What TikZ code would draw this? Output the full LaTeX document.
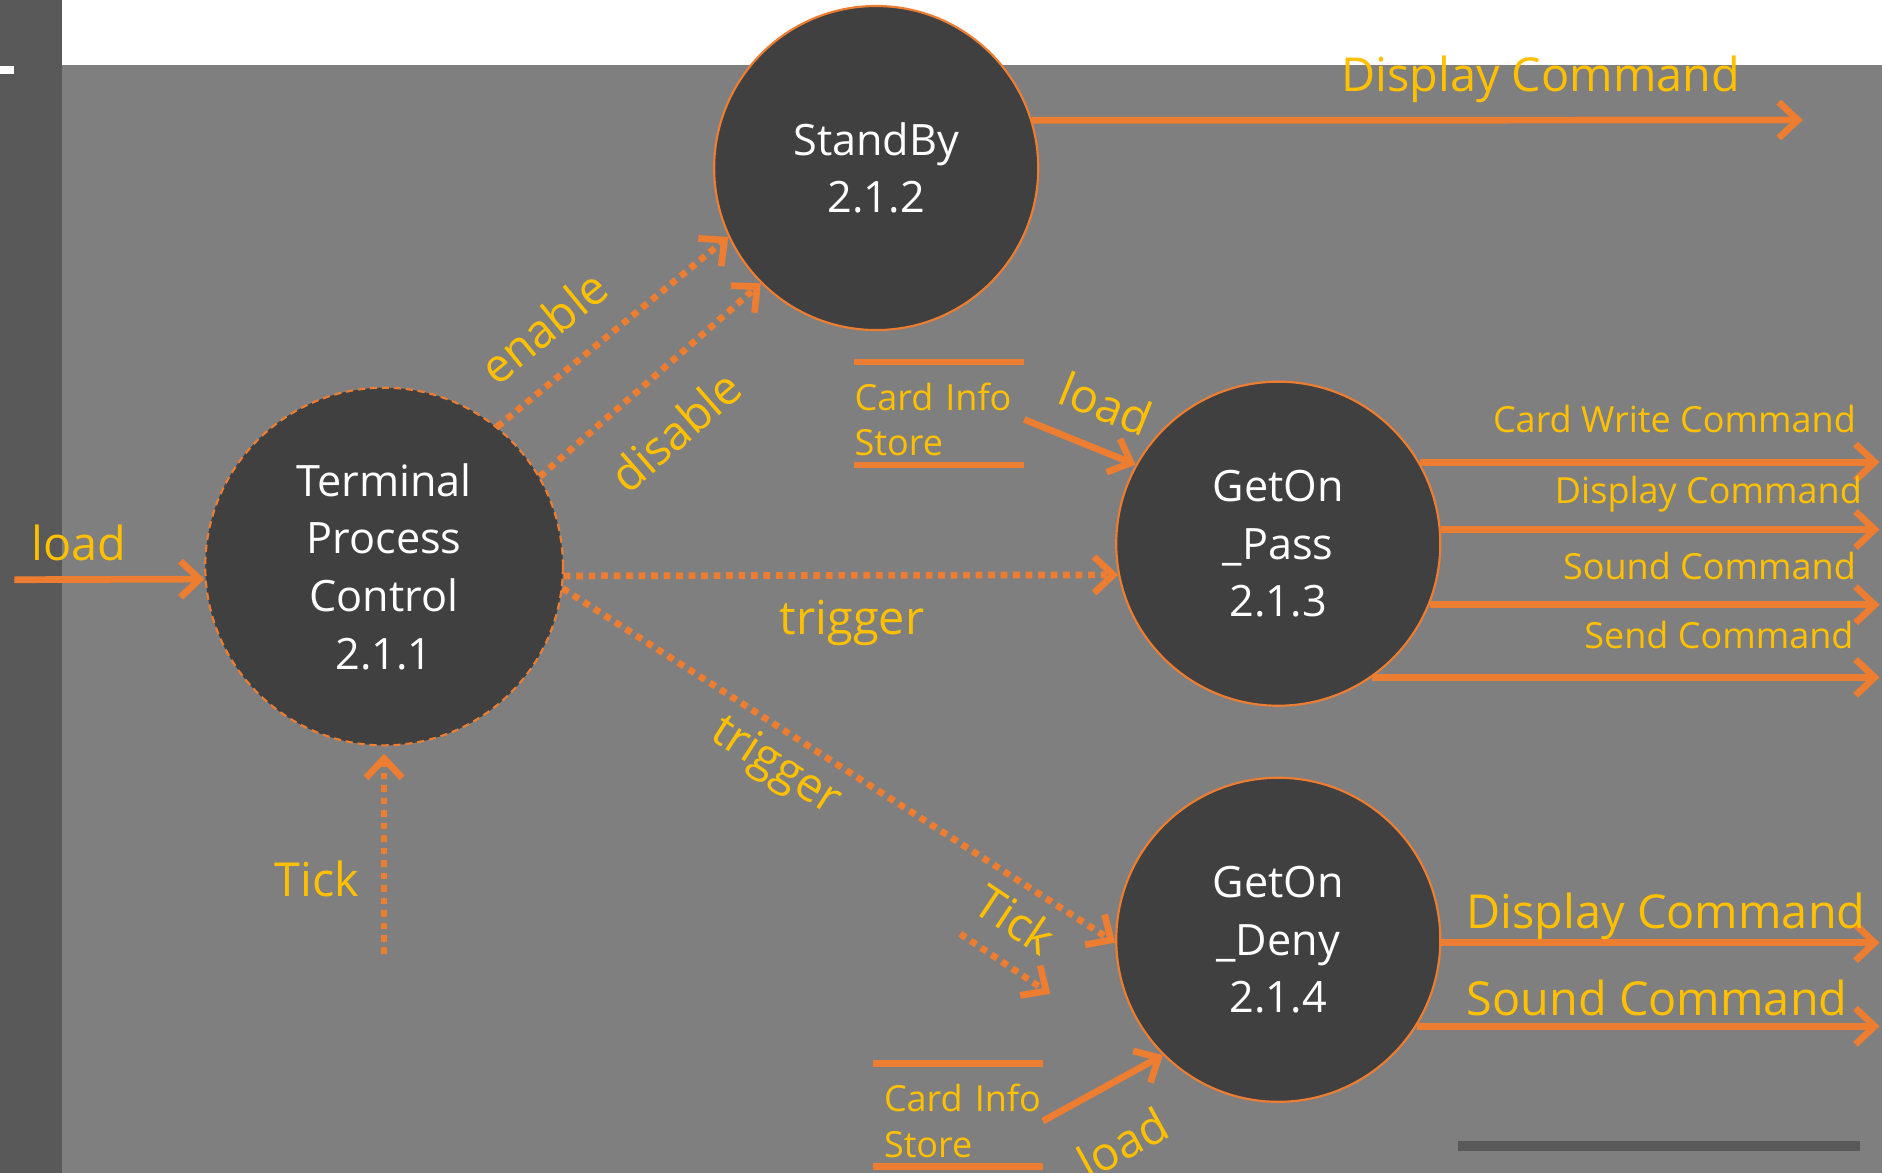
\documentclass[tikz,border=0pt]{standalone}
\usepackage{fontspec}
\setmainfont{Open Sans}
\usetikzlibrary{arrows.meta}
\definecolor{dfdorange}{HTML}{ED7D31}
\definecolor{dfdyellow}{HTML}{FFC000}
\definecolor{dfdfill}{HTML}{404040}
\definecolor{dfdgray}{HTML}{7F7F7F}
\definecolor{dfdstrip}{HTML}{595959}
\newcommand{\procfont}{\fontsize{18}{24}\selectfont}
\newcommand{\bigfont}{\fontsize{19.5}{23}\selectfont}
\newcommand{\smallfont}{\fontsize{15}{19}\selectfont}

\begin{document}
\begin{tikzpicture}[x=0.5pt, y=-0.5pt]
  \tikzstyle{process} = [circle, draw=dfdorange, line width=0.9pt, fill=dfdfill, text=white, inner sep=0pt, minimum size=135pt, align=center, font=\procfont]
  \tikzstyle{store} = [text=dfdyellow, font=\smallfont, text width=70.5pt, minimum height=42.5pt, inner sep=0pt, align=left]
  \tikzstyle{storeline} = [draw=dfdorange, line width=2.8pt]
  \tikzstyle{flow} = [draw=dfdorange, line width=2.8pt, -{Straight Barb[length=8pt, width=15pt]}]
  \tikzstyle{ctrl} = [flow, dash pattern=on 2.8pt off 2.4pt]
  \tikzstyle{lbl} = [text=dfdyellow, font=\bigfont, inner sep=2pt]
  \tikzstyle{lbls} = [lbl, font=\smallfont]

  % background
  \useasboundingbox (0,0) rectangle (1568,977);
  \fill[dfdgray] (52,54) rectangle (1568,977);
  \fill[dfdstrip] (0,0) rectangle (52,977);
  \fill[white] (0,55) rectangle (12,62);
  \fill[dfdstrip] (1215,951) rectangle (1550,959);

  % processes
  \node[process, minimum size=149pt, dash pattern=on 3pt off 2pt] (tpc) at (320,472) {Terminal\\Process\\Control\\2.1.1};
  \node[process] (standby) at (730,140) {StandBy\\2.1.2};
  \node[process] (pass) at (1065,453) {GetOn\\\_Pass\\2.1.3};
  \node[process] (deny) at (1065,783) {GetOn\\\_Deny\\2.1.4};

  % data stores
  \node[store] (storeA) at (782.5,349.5) {Card Info\\Store};
  \node[store] (storeB) at (798,934) {\hspace*{4.5pt}Card Info\\\hspace*{4.5pt}Store};
  \foreach \s in {storeA, storeB} {
    \draw[storeline] ([yshift=2.5pt]\s.north west) -- ([yshift=2.5pt]\s.north east);
    \draw[storeline] ([yshift=2.5pt]\s.south west) -- ([yshift=2.5pt]\s.south east);
  }

  \coordinate (loadin) at (12,483);
  \coordinate (tickin) at (320,795);
  \coordinate (ticka) at (800,778);
  \coordinate (tickb) at (875,828);
  \coordinate (sbout) at (1502,100);
  \coordinate (edge) at (1566,0);

  % inputs of 2.1.1
  \draw[flow] (loadin) -- (tpc.184) node[lbl, pos=0.34, above=4.5pt] (loadlbl) {load};
  \draw[ctrl, shorten >=3pt] (tickin) -- (tpc.south) node[lbl, pos=0.36, left=7pt] (ticklbl) {Tick};

  % control flows
  \draw[ctrl] (tpc.51) -- (standby.205) node[lbl, pos=0.33, above=9pt, sloped] (enablelbl) {enable};
  \draw[ctrl] (tpc.30) -- (standby.225) node[lbl, pos=0.45, below=12pt, sloped] (disablelbl) {disable};
  \draw[ctrl] (tpc.-3) -- (pass.191.5) node[lbl, pos=0.52, below=7pt] (triglbl) {trigger};
  \draw[ctrl] (tpc.-7) -- (deny.181) node[lbl, pos=0.42, below=2pt, sloped] (trigdlbl) {trigger};
  \draw[ctrl] (ticka) -- (tickb) node[lbl, pos=0.35, above=7pt, sloped] (tickdlbl) {Tick};

  % 2.1.2
  \draw[flow] (standby.17) -- (sbout) node[lbl, pos=0.66, anchor=base, yshift=12pt] (sbdisp) {Display Command};

  % 2.1.3
  \draw[flow] (storeA.east) -- (pass.151) node[lbl, pos=0.58, above=8pt, sloped] (loadAlbl) {load};
  \foreach \a/\txt/\dx/\dy [count=\i] in {30/Card Write Command/-6.5/12.5, 5/Display Command/-4/11, -22/Sound Command/-6.5/10.75, -55/Send Command/-7.5/12} {
    \draw[flow] (pass.\a) -- (pass.\a -| edge) node[lbls, anchor=base east, xshift=\dx pt, yshift=\dy pt] (passout\i) {\txt};
  }

  % 2.1.4
  \draw[flow] (storeB.east) -- (deny.225) node[lbl, pos=0.43, below=13pt, sloped] (loadBlbl) {load};
  \draw[flow] (deny.-1) -- (deny.-1 -| edge) node[lbl, anchor=base east, xshift=-2.5pt, yshift=6pt] (denydisp) {Display Command};
  \draw[flow] (deny.-32) -- (deny.-32 -| edge) node[lbl, anchor=base east, xshift=-10pt, yshift=4.5pt] (denysnd) {Sound Command};
\end{tikzpicture}
\end{document}
